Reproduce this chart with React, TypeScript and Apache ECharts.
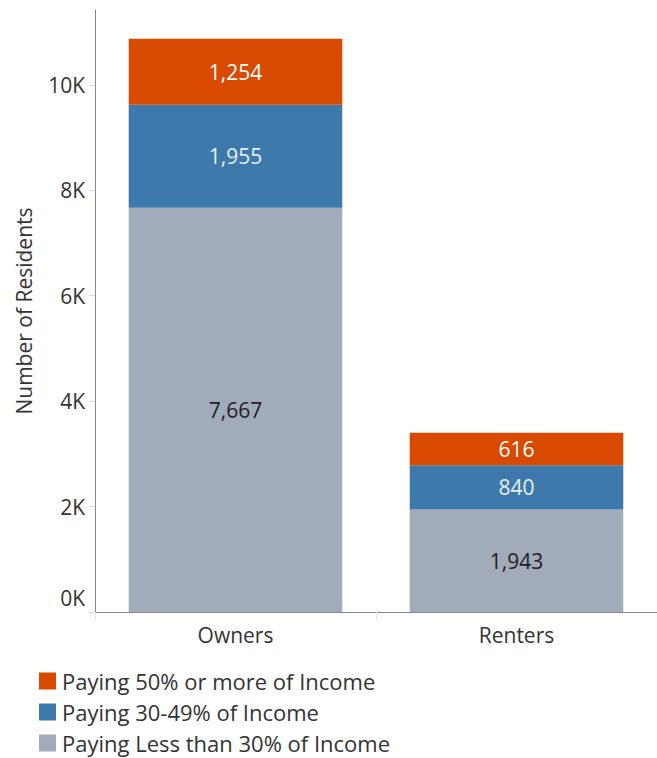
import React, { useEffect, useRef } from "react";
import * as echarts from "echarts";

const categories = ["Owners", "Renters"];
const lessThan30 = [7667, 1943];
const pct30to49 = [1955, 840];
const pct50plus = [1254, 616];
const yTicks = [0, 2000, 4000, 6000, 8000, 10000];
const seriesNames = [
  "Paying 50% or more of Income",
  "Paying 30-49% of Income",
  "Paying Less than 30% of Income",
];

const FONT = "Open Sans";
const FS = 21;

export default function App() {
  const ref = useRef<HTMLDivElement>(null);
  useEffect(() => {
    const chart = echarts.init(ref.current!, null, { renderer: "svg" });
    const fmt = (p: any) => Number(p.value).toLocaleString("en-US");
    const label = (color: string) => ({
      show: true,
      position: "inside",
      formatter: fmt,
      color,
      fontSize: FS,
      fontFamily: FONT,
    });
    chart.setOption({
      animation: false,
      textStyle: { fontFamily: FONT },
      grid: { left: 95, right: 0, top: 10, bottom: 146 },
      legend: {
        orient: "vertical",
        left: 34,
        top: 665,
        height: 92,
        itemWidth: 17,
        itemHeight: 17,
        itemGap: 9,
        icon: "rect",
        data: seriesNames,
        textStyle: {
          fontSize: 22,
          lineHeight: 22,
          color: "#333",
          fontFamily: FONT,
          padding: [0, 0, 0, 1],
        },
      },
      xAxis: {
        type: "category",
        data: categories,
        axisLine: { lineStyle: { color: "#888", width: 1 } },
        axisTick: { show: true, length: 8, lineStyle: { color: "#e6e6e6" } },
        axisLabel: { fontSize: FS, color: "#333", margin: 12, fontFamily: FONT },
      },
      yAxis: {
        type: "value",
        min: 0,
        max: 11420,
        name: "Number of Residents",
        nameLocation: "middle",
        nameGap: 61,
        nameTextStyle: { fontSize: FS, color: "#333", fontFamily: FONT },
        axisLine: { show: true, lineStyle: { color: "#888" } },
        axisTick: {
          show: true,
          length: 6,
          customValues: yTicks,
          lineStyle: { color: "#ddd" },
        },
        splitLine: { show: false },
        axisLabel: {
          customValues: yTicks,
          fontSize: FS,
          color: "#333",
          margin: 10,
          fontFamily: FONT,
          formatter: (v: number) => (v === 0 ? "{z|0K}" : v / 1000 + "K"),
          rich: {
            z: { fontSize: FS, color: "#333", fontFamily: FONT, padding: [0, 0, 28, 0] },
          },
        },
      },
      series: [
        {
          name: seriesNames[2],
          type: "bar",
          stack: "t",
          data: lessThan30,
          barWidth: "76%",
          itemStyle: { color: "#A1ABBA" },
          label: label("#222"),
        },
        {
          name: seriesNames[1],
          type: "bar",
          stack: "t",
          data: pct30to49,
          itemStyle: { color: "#3D79AA" },
          label: label("#e8eef6"),
        },
        {
          name: seriesNames[0],
          type: "bar",
          stack: "t",
          data: pct50plus,
          itemStyle: { color: "#D84A00" },
          label: label("#ffffff"),
        },
      ],
    });
    return () => chart.dispose();
  }, []);
  return <div ref={ref} style={{ width: 657, height: 758, position: "absolute", left: 0, top: 0 }} />;
}
